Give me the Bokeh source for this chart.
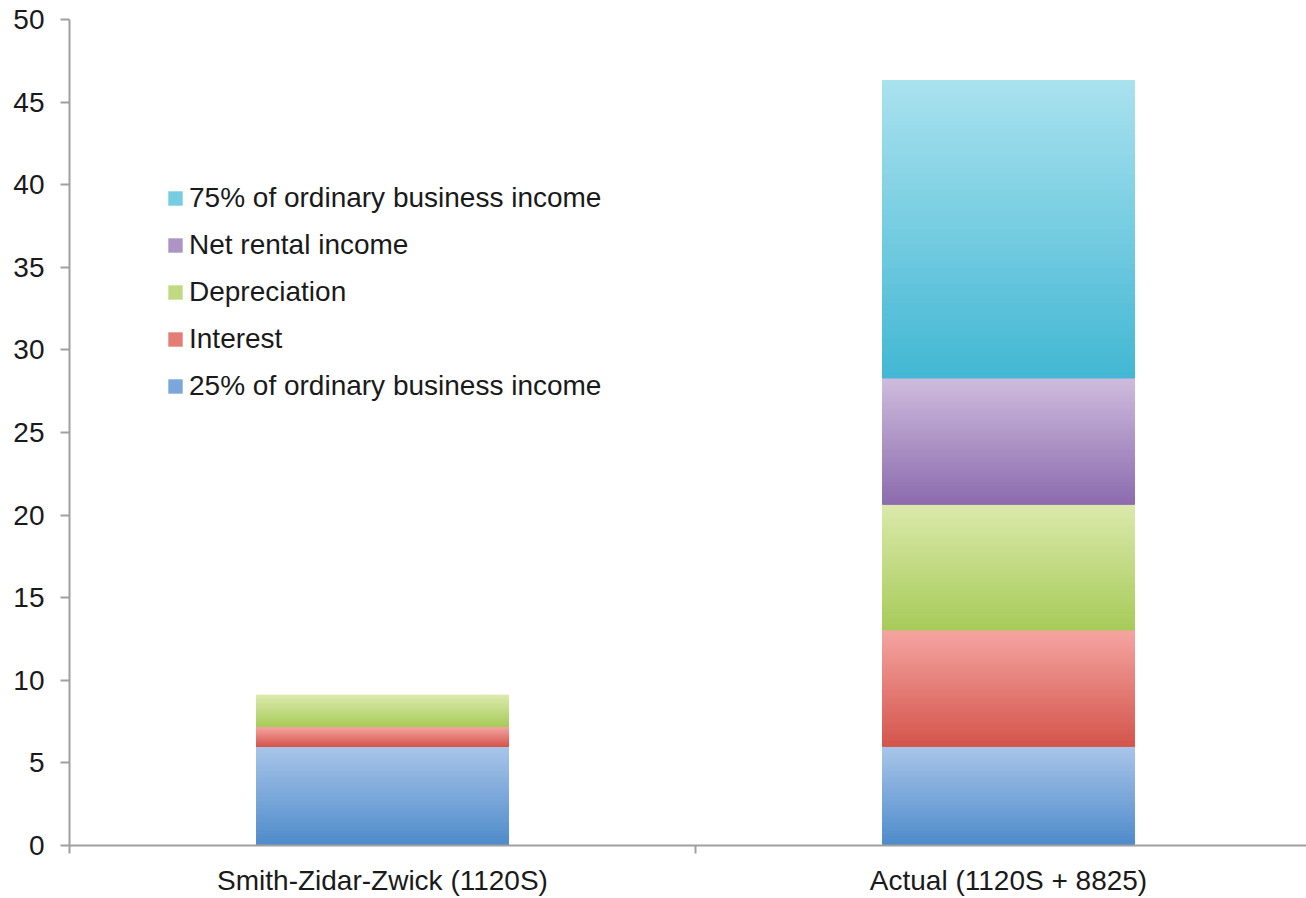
from bokeh.plotting import figure
from bokeh.models import Range1d, FixedTicker, Legend, LegendItem, ColumnDataSource
from bokeh.embed import file_html
from bokeh.resources import INLINE

# ---- data ----
categories = ["Smith-Zidar-Zwick (1120S)", "Actual (1120S + 8825)"]
series = ["25% of ordinary business income", "Interest", "Depreciation",
          "Net rental income", "75% of ordinary business income"]
obi25 = [6.0, 6.0]
interest = [1.2, 7.05]
depreciation = [1.9, 7.6]
net_rental = [0.0, 7.65]
obi75 = [0.0, 18.0]
y_ticks = [0, 5, 10, 15, 20, 25, 30, 35, 40, 45, 50]

values = [obi25, interest, depreciation, net_rental, obi75]
# (top colour, bottom colour) of each gradient
grad = [("#a9c5e9", "#4e8bca"), ("#f5a5a1", "#d3554c"), ("#dbe9ab", "#a7cb5a"),
        ("#cfbcdd", "#8b6bae"), ("#aae2ef", "#42b7d3")]
mid = ["#7ba7da", "#e47d76", "#c1da82", "#ad94c5", "#76cde1"]

xs = [0.5, 1.5]
bar_w = 0.4026

p = figure(width=1306, height=898, x_range=Range1d(0, 1.976), y_range=Range1d(0, 50),
           output_backend="svg", toolbar_location=None,
           min_border_left=69, min_border_right=0, min_border_top=19, min_border_bottom=53)
p.outline_line_color = None
p.grid.visible = False
p.background_fill_color = "white"
p.border_fill_color = "white"

src = ColumnDataSource(dict(x=xs, **{s: v for s, v in zip(series, values)}))
rends = p.vbar_stack(series, x="x", width=bar_w, color=mid, line_color=None, source=src)


def hex2rgb(h):
    return tuple(int(h[i:i + 2], 16) for i in (1, 3, 5))


def rgb2hex(c):
    return "#%02x%02x%02x" % tuple(int(round(v)) for v in c)


# gradient overlay computed from the stacked values
n = 60
gx, gb, gt, gc = [], [], [], []
for j, x in enumerate(xs):
    base = 0.0
    for i, vals in enumerate(values):
        v = vals[j]
        if v > 0:
            top_c, bot_c = hex2rgb(grad[i][0]), hex2rgb(grad[i][1])
            for k in range(n):
                f = (k + 0.5) / n
                col = tuple(bot_c[m] + (top_c[m] - bot_c[m]) * f for m in range(3))
                gx.append(x)
                gb.append(base + v * k / n)
                gt.append(base + v * (k + 1) / n)
                gc.append(rgb2hex(col))
        base += v
gsrc = ColumnDataSource(dict(x=gx, bottom=gb, top=gt, color=gc))
p.vbar(x="x", width=bar_w, bottom="bottom", top="top", fill_color="color",
       line_color="color", line_width=1, source=gsrc)

axis_col = "#a0a0a0"
text_col = "#1a1a1a"
font = "Liberation Sans"
fsize = "28px"

# y axis
p.yaxis.ticker = FixedTicker(ticks=y_ticks)
p.yaxis.axis_line_color = axis_col
p.yaxis.axis_line_width = 2
p.yaxis.major_tick_line_color = axis_col
p.yaxis.major_tick_line_width = 2
p.yaxis.major_tick_out = 9
p.yaxis.major_tick_in = 0
p.yaxis.minor_tick_line_color = None
p.yaxis.major_label_standoff = 16
p.yaxis.major_label_text_font = font
p.yaxis.major_label_text_font_size = fsize
p.yaxis.major_label_text_color = text_col

# x axis
p.xaxis.ticker = FixedTicker(ticks=xs, minor_ticks=[0, 1, 2])
p.xaxis.major_label_overrides = {xs[0]: categories[0], xs[1]: categories[1]}
p.xaxis.axis_line_color = axis_col
p.xaxis.axis_line_width = 2
p.xaxis.major_tick_line_color = None
p.xaxis.minor_tick_line_color = axis_col
p.xaxis.minor_tick_line_width = 2
p.xaxis.minor_tick_out = 8
p.xaxis.minor_tick_in = 0
p.xaxis.major_label_standoff = 11
p.xaxis.major_label_text_font = font
p.xaxis.major_label_text_font_size = fsize
p.xaxis.major_label_text_color = text_col

items = [LegendItem(label=series[i], renderers=[rends[i]]) for i in range(4, -1, -1)]
legend = Legend(items=items, location=(97, 443), glyph_width=18, glyph_height=18,
                label_standoff=5, spacing=15, padding=0, margin=0,
                border_line_color=None, background_fill_alpha=0,
                label_text_font=font, label_text_font_size=fsize,
                label_text_color=text_col)
p.add_layout(legend)

open("out.html", "w").write(file_html(p, INLINE))
